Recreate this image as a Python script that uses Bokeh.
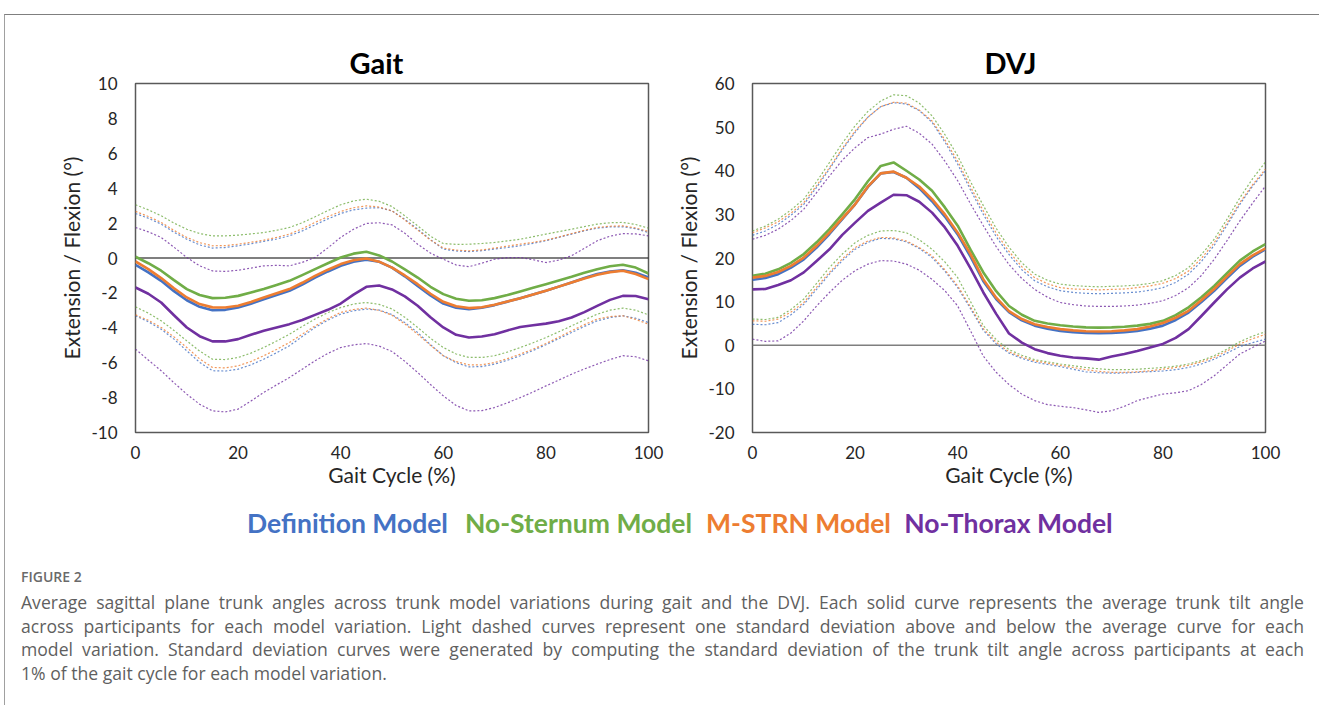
from bokeh.plotting import figure
from bokeh.models import Range1d, FixedTicker, Span, Div, Spacer
from bokeh.layouts import column, row
from bokeh.embed import file_html
from bokeh.resources import INLINE
from bokeh.core.properties import value

# ---------------- data ----------------
pct = [0, 2.5, 5, 7.5, 10, 12.5, 15, 17.5, 20, 22.5, 25, 27.5, 30, 32.5, 35, 37.5, 40, 42.5, 45, 47.5,
       50, 52.5, 55, 57.5, 60, 62.5, 65, 67.5, 70, 72.5, 75, 77.5, 80, 82.5, 85, 87.5, 90, 92.5, 95, 97.5, 100]

model_names = ["Definition Model", "No-Sternum Model", "M-STRN Model", "No-Thorax Model"]
model_colors = ["#4472C4", "#70AD47", "#ED7D31", "#7030A0"]

# Gait: mean curves
gait_def_mean = [-0.39, -0.82, -1.31, -1.90, -2.42, -2.80, -2.99, -2.97, -2.83, -2.62, -2.36, -2.12, -1.88, -1.52, -1.12, -0.77, -0.45, -0.22, -0.10, -0.22, -0.55, -1.05, -1.60, -2.15, -2.61, -2.85, -2.93, -2.85, -2.70, -2.50, -2.30, -2.09, -1.88, -1.64, -1.40, -1.15, -0.92, -0.78, -0.70, -0.85, -1.12]
gait_nost_mean = [0.07, -0.30, -0.73, -1.27, -1.78, -2.12, -2.30, -2.28, -2.17, -1.98, -1.78, -1.55, -1.31, -0.98, -0.64, -0.30, 0.03, 0.25, 0.36, 0.15, -0.20, -0.65, -1.12, -1.65, -2.07, -2.33, -2.45, -2.42, -2.30, -2.12, -1.92, -1.71, -1.50, -1.29, -1.08, -0.85, -0.64, -0.47, -0.39, -0.55, -0.89]
gait_mstrn_mean = [-0.20, -0.64, -1.15, -1.73, -2.26, -2.64, -2.83, -2.84, -2.74, -2.52, -2.26, -2.02, -1.78, -1.42, -1.02, -0.67, -0.35, -0.13, -0.03, -0.21, -0.55, -1.00, -1.50, -2.05, -2.51, -2.76, -2.87, -2.82, -2.68, -2.49, -2.30, -2.09, -1.88, -1.64, -1.40, -1.17, -0.96, -0.81, -0.73, -0.92, -1.21]
gait_noth_mean = [-1.69, -2.05, -2.55, -3.28, -3.98, -4.48, -4.78, -4.78, -4.65, -4.40, -4.17, -3.98, -3.79, -3.55, -3.26, -2.97, -2.61, -2.10, -1.65, -1.58, -1.80, -2.20, -2.74, -3.40, -3.98, -4.40, -4.56, -4.50, -4.37, -4.15, -3.95, -3.85, -3.76, -3.62, -3.41, -3.10, -2.74, -2.40, -2.17, -2.18, -2.36]
# Gait: +1 SD
gait_def_hi = [2.55, 2.28, 1.94, 1.48, 1.08, 0.75, 0.57, 0.60, 0.70, 0.81, 0.95, 1.09, 1.27, 1.55, 1.90, 2.24, 2.55, 2.76, 2.86, 2.88, 2.70, 2.22, 1.66, 1.05, 0.51, 0.40, 0.37, 0.42, 0.51, 0.60, 0.70, 0.84, 0.99, 1.18, 1.37, 1.56, 1.71, 1.78, 1.79, 1.68, 1.46]
gait_nost_hi = [3.05, 2.76, 2.42, 2.00, 1.65, 1.40, 1.27, 1.27, 1.31, 1.38, 1.46, 1.59, 1.75, 2.02, 2.36, 2.72, 3.05, 3.27, 3.37, 3.25, 2.95, 2.42, 1.84, 1.25, 0.83, 0.78, 0.79, 0.83, 0.89, 0.98, 1.08, 1.22, 1.37, 1.51, 1.65, 1.80, 1.94, 2.02, 2.04, 1.92, 1.71]
gait_mstrn_hi = [2.67, 2.38, 2.04, 1.58, 1.18, 0.88, 0.70, 0.71, 0.79, 0.90, 1.02, 1.18, 1.37, 1.68, 2.04, 2.37, 2.67, 2.88, 2.99, 2.92, 2.70, 2.18, 1.60, 1.03, 0.57, 0.45, 0.41, 0.46, 0.57, 0.68, 0.79, 0.90, 1.02, 1.20, 1.40, 1.59, 1.75, 1.82, 1.84, 1.72, 1.52]
gait_noth_hi = [1.75, 1.50, 1.18, 0.62, 0.03, -0.45, -0.74, -0.77, -0.70, -0.58, -0.45, -0.42, -0.45, -0.25, 0.03, 0.58, 1.18, 1.65, 1.98, 2.02, 1.90, 1.42, 0.79, 0.28, -0.07, -0.40, -0.50, -0.30, -0.07, 0.02, 0.03, -0.10, -0.26, -0.12, 0.13, 0.55, 0.99, 1.25, 1.40, 1.38, 1.27]
# Gait: -1 SD
gait_def_lo = [-3.31, -3.65, -4.08, -4.65, -5.32, -5.98, -6.46, -6.48, -6.37, -6.12, -5.80, -5.43, -5.03, -4.50, -3.98, -3.56, -3.22, -3.02, -2.93, -2.98, -3.24, -3.70, -4.27, -4.97, -5.60, -6.00, -6.24, -6.22, -6.08, -5.86, -5.60, -5.30, -4.97, -4.62, -4.27, -3.92, -3.60, -3.41, -3.31, -3.45, -3.70]
gait_nost_lo = [-2.80, -3.16, -3.60, -4.15, -4.75, -5.33, -5.80, -5.82, -5.70, -5.45, -5.13, -4.76, -4.37, -3.92, -3.50, -3.13, -2.84, -2.64, -2.55, -2.66, -2.92, -3.40, -3.98, -4.60, -5.13, -5.50, -5.70, -5.70, -5.60, -5.39, -5.13, -4.86, -4.56, -4.23, -3.89, -3.55, -3.22, -2.99, -2.87, -2.99, -3.26]
gait_mstrn_lo = [-3.26, -3.57, -3.98, -4.52, -5.13, -5.78, -6.27, -6.30, -6.18, -5.93, -5.60, -5.24, -4.84, -4.37, -3.89, -3.48, -3.12, -2.95, -2.87, -3.00, -3.28, -3.78, -4.37, -5.00, -5.60, -5.94, -6.12, -6.12, -5.99, -5.77, -5.51, -5.22, -4.90, -4.54, -4.17, -3.82, -3.50, -3.36, -3.31, -3.52, -3.79]
gait_noth_lo = [-5.22, -5.85, -6.46, -7.15, -7.80, -8.38, -8.76, -8.82, -8.66, -8.20, -7.70, -7.27, -6.85, -6.37, -5.89, -5.47, -5.13, -4.98, -4.90, -5.05, -5.36, -5.92, -6.56, -7.25, -7.90, -8.45, -8.76, -8.75, -8.57, -8.30, -8.00, -7.68, -7.33, -7.00, -6.66, -6.36, -6.08, -5.82, -5.60, -5.66, -5.89]

# DVJ: mean curves
dvj_def_mean = [15.0, 15.4, 16.3, 17.8, 19.7, 22.4, 25.5, 28.9, 32.3, 36.3, 39.4, 39.7, 38.4, 36.0, 33.0, 29.5, 25.4, 20.3, 14.7, 10.6, 7.6, 5.7, 4.5, 3.8, 3.3, 3.0, 2.8, 2.75, 2.8, 3.0, 3.3, 3.8, 4.5, 5.8, 7.5, 9.9, 12.5, 15.4, 18.2, 20.3, 22.0]
dvj_nost_mean = [15.9, 16.4, 17.4, 18.9, 20.9, 23.6, 26.6, 30.0, 33.5, 37.6, 41.1, 41.9, 40.0, 38.0, 35.4, 31.6, 27.4, 21.9, 16.7, 12.4, 9.0, 7.0, 5.6, 5.0, 4.6, 4.3, 4.1, 4.05, 4.1, 4.25, 4.5, 4.9, 5.6, 6.9, 8.7, 11.0, 13.6, 16.5, 19.4, 21.5, 23.2]
dvj_mstrn_mean = [15.5, 15.9, 16.8, 18.2, 20.1, 22.8, 25.8, 29.1, 32.3, 36.4, 39.4, 39.8, 38.4, 36.4, 33.5, 30.0, 25.8, 20.9, 15.1, 10.9, 7.8, 6.0, 4.8, 4.2, 3.7, 3.4, 3.2, 3.15, 3.2, 3.4, 3.7, 4.3, 5.1, 6.3, 7.9, 10.3, 12.9, 15.8, 18.6, 20.6, 22.2]
dvj_noth_mean = [12.8, 12.9, 13.8, 14.9, 16.7, 19.3, 22.0, 25.3, 28.1, 30.8, 32.7, 34.5, 34.4, 32.9, 30.4, 27.0, 22.8, 17.6, 12.1, 7.2, 2.7, 0.6, -0.9, -1.8, -2.4, -2.8, -3.0, -3.3, -2.6, -2.0, -1.3, -0.5, 0.3, 1.7, 3.7, 6.7, 9.8, 12.8, 15.5, 17.6, 19.2]
# DVJ: +1 SD
dvj_def_hi = [25.2, 26.2, 27.7, 29.8, 32.3, 36.2, 40.4, 44.8, 48.8, 52.3, 54.7, 55.6, 55.3, 53.8, 51.1, 46.6, 41.5, 35.6, 30.0, 24.9, 20.8, 17.3, 14.8, 13.4, 12.5, 12.1, 11.9, 11.8, 11.9, 12.0, 12.2, 12.6, 13.2, 14.4, 16.3, 19.2, 22.9, 27.5, 32.3, 36.5, 40.0]
dvj_nost_hi = [26.2, 27.3, 28.9, 31.0, 33.5, 37.5, 41.9, 46.3, 50.3, 53.6, 56.0, 57.4, 57.2, 55.5, 52.6, 48.3, 43.4, 37.5, 32.0, 26.8, 22.5, 18.9, 16.3, 14.9, 14.0, 13.7, 13.5, 13.4, 13.5, 13.6, 13.8, 14.2, 14.8, 16.0, 17.8, 20.8, 24.3, 28.9, 33.8, 38.2, 42.0]
dvj_mstrn_hi = [25.8, 26.9, 28.3, 30.3, 32.7, 36.6, 40.7, 45.1, 49.1, 52.3, 54.7, 55.7, 55.5, 53.9, 51.4, 47.1, 42.2, 36.3, 30.8, 25.7, 21.5, 18.0, 15.5, 14.1, 13.2, 12.9, 12.8, 12.7, 12.8, 12.9, 13.2, 13.6, 14.2, 15.3, 17.0, 19.9, 23.5, 28.0, 32.7, 36.8, 40.4]
dvj_noth_hi = [24.3, 25.2, 26.6, 28.6, 31.2, 35.0, 38.8, 42.4, 45.3, 47.6, 48.4, 49.5, 50.2, 48.6, 46.1, 42.2, 37.7, 32.4, 27.4, 22.6, 18.5, 15.3, 12.8, 11.0, 9.8, 9.3, 9.0, 8.9, 8.9, 9.0, 9.2, 9.6, 10.2, 11.4, 13.2, 16.0, 19.7, 24.0, 28.5, 32.6, 36.5]
# DVJ: -1 SD
dvj_def_lo = [4.8, 4.7, 5.2, 7.0, 9.4, 12.8, 16.3, 19.4, 22.0, 23.6, 24.5, 24.4, 23.7, 22.2, 20.1, 17.0, 13.2, 8.4, 3.4, 0.3, -1.8, -3.0, -3.9, -4.4, -4.9, -5.5, -6.1, -6.3, -6.4, -6.35, -6.2, -6.05, -5.9, -5.6, -5.1, -4.3, -3.2, -1.8, -0.3, 0.6, 1.4]
dvj_nost_lo = [6.0, 5.9, 6.4, 8.2, 10.6, 14.2, 17.8, 20.9, 23.5, 25.2, 26.2, 26.3, 25.8, 24.2, 22.0, 19.1, 15.5, 10.0, 4.5, 1.3, -1.0, -2.3, -3.3, -3.8, -4.3, -4.7, -5.1, -5.4, -5.6, -5.6, -5.5, -5.3, -5.1, -4.8, -4.3, -3.5, -2.4, -0.9, 0.8, 2.1, 3.1]
dvj_mstrn_lo = [5.6, 5.5, 6.0, 7.6, 9.8, 13.3, 16.7, 19.8, 22.4, 23.9, 24.7, 24.6, 23.9, 22.4, 20.5, 17.3, 13.6, 8.8, 3.8, 0.7, -1.5, -2.7, -3.6, -4.1, -4.6, -5.1, -5.6, -6.0, -6.2, -6.2, -6.1, -5.85, -5.5, -5.1, -4.6, -3.8, -2.8, -1.3, 0.3, 1.5, 2.5]
dvj_noth_lo = [1.4, 0.9, 1.0, 2.8, 5.6, 9.0, 12.1, 14.9, 17.1, 18.6, 19.4, 19.3, 18.6, 17.2, 15.1, 12.5, 9.0, 3.3, -2.5, -6.2, -9.0, -11.2, -12.7, -13.6, -14.0, -14.3, -14.8, -15.4, -15.0, -14.0, -12.7, -11.9, -11.2, -10.9, -10.4, -9.0, -7.0, -4.5, -2.0, -0.5, 1.0]

x_ticks = [0, 20, 40, 60, 80, 100]
gait_y_ticks = [-10, -8, -6, -4, -2, 0, 2, 4, 6, 8, 10]
dvj_y_ticks = [-20, -10, 0, 10, 20, 30, 40, 50, 60]

x_label = "Gait Cycle (%)"
y_label = "Extension / Flexion (°)"

figure_label = "FIGURE 2"
caption_lines = [
    "Average sagittal plane trunk angles across trunk model variations during gait and the DVJ. Each solid curve represents the average trunk tilt angle",
    "across participants for each model variation. Light dashed curves represent one standard deviation above and below the average curve for each",
    "model variation. Standard deviation curves were generated by computing the standard deviation of the trunk tilt angle across participants at each",
    "1% of the gait cycle for each model variation.",
]

# ---------------- styling / layout constants ----------------
FONT = "Lato"
TOP_H = 480
FULL_W = 1308
ORIGIN_X = 5      # page x of the content (after the 1px left rule at x=4)
ORIGIN_Y = 15     # page y of the content (after the 1px top rule at y=14)


def make_panel(title, title_offset, means, his, los, yticks, width, border_left, border_right,
               zero_color, zero_width):
    p = figure(width=width, height=TOP_H,
               x_range=Range1d(0, 100), y_range=Range1d(yticks[0], yticks[-1]),
               output_backend="svg", toolbar_location=None,
               min_border_left=border_left, min_border_right=border_right,
               min_border_top=68, min_border_bottom=TOP_H - 68 - 349)
    p.title.text = title
    p.title.align = "left"
    p.title.offset = title_offset
    p.title.text_font = FONT
    p.title.text_font_size = "29px"
    p.title.text_font_style = "bold"
    p.title.text_color = "#000000"
    p.title.standoff = 8

    p.grid.visible = False
    p.outline_line_color = "#595959"
    p.outline_line_width = 1.5
    p.background_fill_color = "white"
    p.border_fill_color = "white"

    for ax in (p.xaxis[0], p.yaxis[0]):
        ax.axis_line_color = None
        ax.major_tick_out = 0
        ax.major_tick_in = 0
        ax.minor_tick_out = 0
        ax.minor_tick_in = 0
        ax.major_label_text_font = FONT
        ax.major_label_text_font_size = "17px"
        ax.major_label_text_color = "#262626"
        ax.axis_label_text_font = FONT
        ax.axis_label_text_font_size = "21px"
        ax.axis_label_text_font_style = "normal"
        ax.axis_label_text_color = "#262626"

    p.xaxis.ticker = FixedTicker(ticks=x_ticks)
    p.xaxis.major_label_overrides = {t: str(t) for t in x_ticks}
    p.xaxis.major_label_standoff = 13
    p.xaxis.axis_label = x_label
    p.xaxis.axis_label_standoff = 0

    p.yaxis.ticker = FixedTicker(ticks=yticks)
    p.yaxis.major_label_overrides = {t: str(t) for t in yticks}
    p.yaxis.major_label_standoff = 18
    p.yaxis.axis_label = y_label
    p.yaxis.axis_label_standoff = 4

    # standard deviation curves (light dashed)
    for ys, c in zip(his + los, model_colors + model_colors):
        p.line(pct, ys, line_color=c, line_width=1.2, line_dash="2 2", line_alpha=0.8)

    zero = Span(location=0, dimension="width", line_color=zero_color, line_width=zero_width,
                level="underlay")
    p.add_layout(zero)

    # average curves
    for ys, c in zip(means, model_colors):
        p.line(pct, ys, line_color=c, line_width=2.6, line_join="round")
    return p


GAIT_W = 663
gait = make_panel("Gait", 214,
                  [gait_def_mean, gait_nost_mean, gait_mstrn_mean, gait_noth_mean],
                  [gait_def_hi, gait_nost_hi, gait_mstrn_hi, gait_noth_hi],
                  [gait_def_lo, gait_nost_lo, gait_mstrn_lo, gait_noth_lo],
                  gait_y_ticks, GAIT_W, 130, GAIT_W - 130 - 513, "#000000", 1.2)

dvj = make_panel("DVJ", 232,
                 [dvj_def_mean, dvj_nost_mean, dvj_mstrn_mean, dvj_noth_mean],
                 [dvj_def_hi, dvj_nost_hi, dvj_mstrn_hi, dvj_noth_hi],
                 [dvj_def_lo, dvj_nost_lo, dvj_mstrn_lo, dvj_noth_lo],
                 dvj_y_ticks, FULL_W - GAIT_W, 84, FULL_W - GAIT_W - 84 - 513, "#7f7f7f", 1.6)

# legend row (coloured model names, no swatches); page coordinates
legend_centers = [347, 578, 798, 1008]
LEG_TOP = ORIGIN_Y + TOP_H
LEG_H = 55
leg = figure(width=FULL_W, height=LEG_H,
             x_range=Range1d(ORIGIN_X, ORIGIN_X + FULL_W), y_range=Range1d(LEG_TOP + LEG_H, LEG_TOP),
             output_backend="svg", toolbar_location=None, min_border=0,
             x_axis_location=None, y_axis_location=None)
leg.grid.visible = False
leg.outline_line_color = None
leg.text(x=legend_centers, y=[522] * 4, text=model_names, text_color=model_colors,
         text_font=value(FONT), text_font_style="bold", text_font_size="26.5px",
         text_align="center", text_baseline="middle")

# caption
line_divs = []
for i, ln in enumerate(caption_lines):
    last = "justify" if i < len(caption_lines) - 1 else "left"
    line_divs.append(
        f'<div style="width:1283px;font-family:\'Open Sans\';font-size:17.6px;color:#5f5f5f;'
        f'line-height:23.7px;text-align:justify;text-align-last:{last};white-space:normal;">{ln}</div>')
cap_html = (
    '<div style="width:1283px;padding:8px 12px 0 11px;">'
    f'<div style="font-family:\'Open Sans\';font-weight:600;font-size:14px;color:#6a6a6a;'
    f'line-height:28px;">{figure_label}</div>'
    + "".join(line_divs) + '</div>'
)
cap = Div(text=cap_html, width=FULL_W, height=148)

inner = column(row(gait, dvj), leg, cap,
               styles={"border-top": "1px solid #7f7f7f", "border-left": "1px solid #a0a0a0"})
root = column(Spacer(width=FULL_W, height=14), row(Spacer(width=4, height=10), inner))

open("out.html", "w").write(file_html(root, INLINE))
